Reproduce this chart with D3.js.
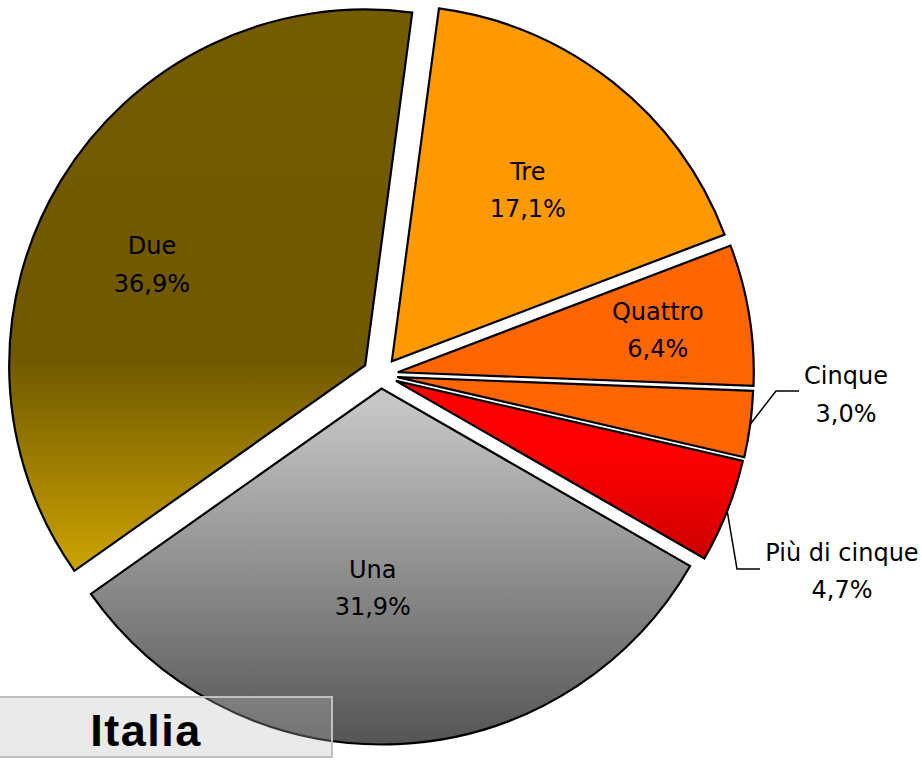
<!DOCTYPE html>
<html>
<head>
<meta charset="utf-8">
<script src="https://cdn.jsdelivr.net/npm/d3@7"></script>
<style>
  html, body { margin: 0; padding: 0; background: #ffffff; }
  svg { display: block; }
</style>
</head>
<body>
<svg id="chart" width="922" height="763"></svg>
<script>
// ---- data ----
const categories = ["Tre", "Quattro", "Cinque", "Più di cinque", "Una", "Due"];
const values = [17.1, 6.4, 3.0, 4.7, 31.9, 36.9];
const valueLabels = ["17,1%", "6,4%", "3,0%", "4,7%", "31,9%", "36,9%"];
const title = "Italia";

// ---- layout / style ----
const W = 922, H = 763;
const cx = 381, cy = 375, R = 356;
const startDeg = 7.6;
const explode = { "Tre": 17.5, "Quattro": 17, "Cinque": 16.5, "Più di cinque": 16, "Una": 13.5, "Due": 18.5 };
const fills = { "Tre": "#FF9900", "Quattro": "#FF6600", "Cinque": "#FF6600",
                "Più di cinque": "url(#gPiu)", "Una": "url(#gUna)", "Due": "url(#gDue)" };
// inside label placement (radius fraction of R, angle tweak in degrees)
const labelK = { "Tre": 0.615, "Quattro": 0.74, "Una": 0.56, "Due": 0.663 };
const labelAdj = { "Tre": 0, "Quattro": 0, "Una": 5.2, "Due": -5.8 };
// outside labels (text centre) for small slices
const outside = { "Cinque": [846, 394.5], "Più di cinque": [842, 571] };

const svg = d3.select("#chart");
const defs = svg.append("defs");

// gradients expressed in page coordinates, shifted into the pie group's frame
function lg(id, y1, y2, stops) {
  const g = defs.append("linearGradient").attr("id", id)
    .attr("gradientUnits", "userSpaceOnUse")
    .attr("x1", 0).attr("y1", y1 - cy).attr("x2", 0).attr("y2", y2 - cy);
  stops.forEach(s => g.append("stop").attr("offset", s[0]).attr("stop-color", s[1]));
}
lg("gDue", 0, 575, [[0, "#755C00"], [0.64, "#705800"], [1, "#CAA200"]]);
lg("gUna", 390, 745, [[0, "#C6C6C6"], [1, "#505050"]]);
lg("gPiu", 450, 565, [[0, "#FF0000"], [1, "#C80000"]]);

const pie = d3.pie().sort(null).value(d => d.v)
  .startAngle(startDeg * Math.PI / 180)
  .endAngle(startDeg * Math.PI / 180 + 2 * Math.PI);
const data = categories.map((c, i) => ({ c, v: values[i], lab: valueLabels[i] }));
const arcs = pie(data);
const arc = d3.arc().innerRadius(0).outerRadius(R);

const g = svg.append("g").attr("transform", `translate(${cx},${cy})`);

const mid = d => (d.startAngle + d.endAngle) / 2;
const off = d => {
  const a = mid(d), e = explode[d.data.c];
  return [Math.sin(a) * e, -Math.cos(a) * e];
};

g.selectAll("path.slice").data(arcs).enter().append("path")
  .attr("class", "slice")
  .attr("transform", d => `translate(${off(d)[0]},${off(d)[1]})`)
  .attr("d", arc)
  .attr("fill", d => fills[d.data.c])
  .attr("stroke", "#000")
  .attr("stroke-width", 2.2)
  .attr("stroke-linejoin", "miter");

const font = "'DejaVu Sans', Verdana, sans-serif";
const fs = 24, lineGap = 37.5;

function twoLine(x, y, a, b) {
  const t = svg.append("text").attr("text-anchor", "middle")
    .attr("font-family", font).attr("font-size", fs).attr("fill", "#000");
  t.append("tspan").attr("x", x).attr("y", y - lineGap / 2 + 8.7).text(a);
  t.append("tspan").attr("x", x).attr("y", y + lineGap / 2 + 8.7).text(b);
}

arcs.forEach(d => {
  const a = mid(d), o = off(d);
  if (labelK[d.data.c] !== undefined) {
    const r = labelK[d.data.c] * R;
    const la = a + labelAdj[d.data.c] * Math.PI / 180;
    twoLine(cx + o[0] + Math.sin(la) * r, cy + o[1] - Math.cos(la) * r, d.data.c, d.data.lab);
  } else {
    const p = outside[d.data.c];
    // leader from slice edge at mid angle
    const sx = cx + o[0] + Math.sin(a) * R, sy = cy + o[1] - Math.cos(a) * R;
    const hy = d.data.c === "Cinque" ? p[1] - 3.5 : p[1] - 2;
    const textW = d.data.c === "Cinque" ? 84 : 154;
    const endX = p[0] - textW / 2 - 5;
    const elbowX = endX - 23;
    svg.append("path")
      .attr("d", d3.line()([[sx, sy], [elbowX, hy], [endX, hy]]))
      .attr("fill", "none").attr("stroke", "#000").attr("stroke-width", 1.5);
    twoLine(p[0], p[1], d.data.c, d.data.lab);
  }
});

// title box
svg.append("rect").attr("x", -2).attr("y", 697).attr("width", 334).attr("height", 60)
  .attr("fill", "rgb(187,187,187)").attr("fill-opacity", 0.3)
  .attr("stroke", "#C0C0C0").attr("stroke-width", 2);
svg.append("text").attr("x", 146).attr("y", 745.5).attr("text-anchor", "middle")
  .attr("font-family", "'Liberation Sans', Arial, sans-serif")
  .attr("font-weight", "bold").attr("font-size", 45).attr("letter-spacing", 1.5)
  .attr("fill", "#000").text(title);
</script>
</body>
</html>
